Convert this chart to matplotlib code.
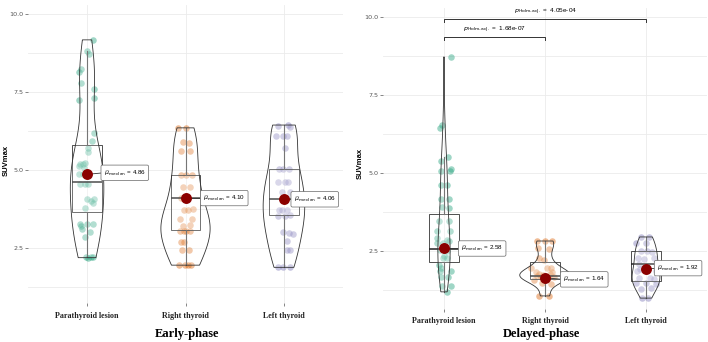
import numpy as np
import matplotlib.pyplot as plt


# -----------------------------
# Data
# -----------------------------

GROUPS = ["Parathyroid lesion", "Right thyroid", "Left thyroid"]
COLORS = ["#1B9E77", "#D95F02", "#7570B3"]

# early phase: SUVmax values and horizontal jitter (px offsets)
early_pl = [9.17, 8.81, 8.72, 8.24, 8.14, 7.79, 7.60, 7.31, 7.24, 6.19, 5.93, 5.70, 5.58,
            5.20, 5.20, 5.22, 5.12, 5.05, 4.86, 4.88, 4.54, 4.54, 4.56, 4.07, 4.07, 4.00,
            3.94, 3.78, 3.26, 3.22, 3.26, 3.28, 3.10, 3.02, 2.85, 2.21, 2.19, 2.21, 2.20]
early_pl_jit = [6, 0, 2, -6, -8, -6, 7, 7, -8, 7, 5, 1, 1, -7, -4, -2, -8, -3, -8, -4,
                -7, -2, 1, 0, 7, 4, 6, -2, -7, -6, 0, 6, -5, 3, -2, -1, 1, 6, 4]

early_rt = [6.35, 6.35, 5.90, 5.86, 5.60, 5.60, 4.84, 4.84, 4.84, 4.44, 4.44, 4.10, 3.72,
            3.72, 3.76, 3.43, 3.43, 3.20, 3.24, 3.04, 3.04, 3.04, 3.04, 2.70, 2.70, 2.44,
            2.44, 1.95, 1.95, 1.95, 1.95]
early_rt_jit = [-8, 0, -3, 4, -5, 5, -5, 0, 7, -3, 5, -5, -2, 3, 8, -6, 7, -3, 5, -6, -2,
                1, 5, -5, -2, -4, 4, -7, -1, 3, 6]

early_lt = [6.41, 6.44, 6.38, 6.09, 6.09, 6.09, 5.70, 5.03, 5.03, 5.03, 4.60, 4.60, 4.60,
            4.30, 4.28, 4.10, 3.72, 3.72, 3.72, 3.53, 3.53, 3.55, 3.00, 2.98, 2.95, 2.72,
            2.44, 2.44, 1.90, 1.88, 1.90]
early_lt_jit = [-6, 4, 6, -8, -1, 3, 1, -5, -1, 5, -6, 1, 4, -2, 6, 3, -5, -2, 3, -6, 1,
                6, -1, 5, 9, 3, 3, 6, -6, -1, 6]

# delayed phase
delayed_pl = [8.72, 6.54, 6.44, 5.50, 5.38, 5.13, 5.06, 5.06, 4.62, 4.62, 4.17, 4.17, 3.88,
              3.90, 3.46, 3.46, 3.14, 3.14, 2.92, 2.85, 2.82, 2.76, 2.76, 2.53, 2.50, 2.34,
              2.28, 2.26, 2.05, 1.95, 1.86, 1.86, 1.67, 1.67, 1.38, 1.38, 1.19]
delayed_pl_jit = [7, -2, -4, 4, -3, 7, -3, 6, -3, 3, -3, 5, 5, -2, -5, 5, -7, 6, -7, 3, 5,
                  -7, -1, -4, 3, 0, -1, 3, -5, -3, -4, 7, -3, 4, -2, 7, 3]

delayed_rt = [2.82, 2.82, 2.82, 2.60, 2.56, 2.28, 2.22, 1.96, 1.96, 1.96, 1.83, 1.83, 1.76,
              1.76, 1.67, 1.67, 1.67, 1.57, 1.48, 1.45, 1.06, 1.06, 1.72, 1.62, 1.70]
delayed_rt_jit = [-8, 0, 7, -7, 4, -6, -1, -14, 2, 6, -9, 7, -6, 5, -4, 2, 9, -11, -3, 6,
                  -6, 4, -2, 3, -8]

delayed_lt = [2.95, 2.95, 2.76, 2.76, 2.50, 2.50, 2.48, 2.27, 2.24, 2.27, 2.08, 1.93, 1.86,
              1.86, 1.86, 1.63, 1.63, 1.60, 1.47, 1.47, 1.45, 1.28, 1.30, 0.99, 1.00]
delayed_lt_jit = [-5, 3, -10, 0, -5, 1, 6, -8, -2, 8, -7, -6, -9, 1, 10, -7, 4, 8, -10, 0,
                  10, -5, 5, -4, 2]

# boxplot stats: whisker low, q1, median, q3, whisker high
early_box = [[2.20, 3.65, 4.60, 5.80, 8.81],
             [1.95, 3.07, 4.10, 4.84, 6.35],
             [1.88, 3.56, 4.07, 5.03, 6.44]]
delayed_box = [[1.19, 2.15, 2.56, 3.69, 5.50],
               [1.06, 1.60, 1.70, 2.15, 2.82],
               [0.99, 1.54, 2.08, 2.50, 2.95]]

early_median = [4.86, 4.10, 4.06]
delayed_median = [2.58, 1.64, 1.92]

# pairwise comparisons shown on delayed panel: (group a, group b, p label)
delayed_pairs = [(1, 2, "1.68e-07"), (1, 3, "4.05e-04")]


# -----------------------------
# Helpers
# -----------------------------

SPACING_PX = 100.0


def nrd0(x):
  sd = np.std(x, ddof=1)
  iqr = np.subtract(*np.percentile(x, [75, 25]))
  lo = min(sd, iqr / 1.34) if iqr > 0 else sd
  return 0.9 * lo * len(x) ** -0.2


def density(x):
  x = np.asarray(x)
  bw = nrd0(x)
  grid = np.linspace(x.min(), x.max(), 512)
  d = np.exp(-0.5 * ((grid[:, None] - x[None, :]) / bw) ** 2).sum(axis=1)
  d /= len(x) * bw * np.sqrt(2 * np.pi)
  return grid, d


def draw_panel(ax, values, jitters, box, medians, label_dx, label_dy):
  # points
  for i, (v, j) in enumerate(zip(values, jitters)):
    ax.scatter(i + 1 + np.asarray(j) / SPACING_PX, v, s=22, color=COLORS[i],
               alpha=0.42, linewidths=0, zorder=2)

  # boxes
  stats = [dict(whislo=b[0], q1=b[1], med=b[2], q3=b[3], whishi=b[4]) for b in box]
  ax.bxp(stats, positions=[1, 2, 3], widths=0.3, showfliers=False, showcaps=False,
         patch_artist=True, manage_ticks=False,
         boxprops=dict(facecolor=(1, 1, 1, 0.2), edgecolor="#333333", linewidth=0.6),
         medianprops=dict(color="#222222", linewidth=1.1),
         whiskerprops=dict(color="#555555", linewidth=0.8), zorder=3)

  # violins (area scaled, width 0.5)
  dens = [density(v) for v in values]
  dmax = max(d.max() for _, d in dens)
  for i, (g, d) in enumerate(dens):
    hw = 0.25 * d / dmax
    xs = np.r_[i + 1 - hw, (i + 1 + hw)[::-1]]
    ys = np.r_[g, g[::-1]]
    ax.fill(xs, ys, facecolor=(1, 1, 1, 0.2), edgecolor="#333333", linewidth=0.6, zorder=4)

  # centrality + label
  for i, m in enumerate(medians):
    x0 = i + 1
    xl = x0 + label_dx[i]
    ax.plot([x0, xl], [m, m + label_dy[i]], color="#333333", lw=0.6, zorder=5)
    ax.scatter(x0, m, s=62, color="#8B0000", zorder=6, linewidths=0)
    ax.text(xl, m + label_dy[i],
            r"$\widehat{\mu}_{\mathrm{median}}\ $" + f"= {m:.2f}",
            fontsize=4.5, family="Liberation Sans", ha="left", va="center", zorder=7,
            bbox=dict(boxstyle="round,pad=0.45,rounding_size=0.25", fc="white",
                      ec="#666666", lw=0.5))


def style_axes(ax, ylim, xpad):
  ax.set_xlim(0.4, 3.6)
  ax.set_ylim(*ylim)
  ax.set_yticks([2.5, 5.0, 7.5, 10.0])
  ax.set_yticklabels(["2.5", "5.0", "7.5", "10.0"])
  ax.set_yticks([1.25, 3.75, 6.25, 8.75], minor=True)
  ax.set_xticks([1, 2, 3])
  ax.set_xticklabels(GROUPS, family="Liberation Serif", fontweight="bold",
                     fontsize=5.8, color="#222222")
  ax.tick_params(axis="y", which="major", labelsize=4.6, length=2, width=0.5,
                 colors="#555555", pad=1.5)
  ax.tick_params(axis="y", which="minor", length=0)
  ax.tick_params(axis="x", length=2, width=0.5, colors="#555555", pad=xpad)
  for lab in ax.get_xticklabels():
    lab.set_color("#222222")
  ax.grid(True, which="both", axis="y", color="#EBEBEB", lw=0.6)
  ax.grid(True, which="major", axis="x", color="#EBEBEB", lw=0.6)
  ax.set_axisbelow(True)
  for s in ax.spines.values():
    s.set_visible(False)


# -----------------------------
# Plot
# -----------------------------

W, H = 708, 342
fig = plt.figure(figsize=(W / 100, H / 100), dpi=100)

ax1 = fig.add_axes([28 / W, 1 - 302.6 / H, 315 / W, 298 / H])
ax2 = fig.add_axes([383.4 / W, 1 - 308.7 / H, 323.2 / W, 301 / H])

draw_panel(ax1, [early_pl, early_rt, early_lt],
           [early_pl_jit, early_rt_jit, early_lt_jit],
           early_box, early_median,
           label_dx=[0.17, 0.18, 0.10], label_dy=[0.05, 0.0, 0.0])
style_axes(ax1, (0.75, 10.3), 4.5)

draw_panel(ax2, [delayed_pl, delayed_rt, delayed_lt],
           [delayed_pl_jit, delayed_rt_jit, delayed_lt_jit],
           delayed_box, delayed_median,
           label_dx=[0.17, 0.18, 0.11], label_dy=[0.0, -0.05, 0.03])
style_axes(ax2, (0.65, 10.3), 4.0)

# significance brackets
bracket_y = [9.36, 9.94]
for (a, b, p), y in zip(delayed_pairs, bracket_y):
  ax2.plot([a, a, b, b], [y - 0.09, y, y, y - 0.09], color="#333333", lw=0.7)
  ax2.text((a + b) / 2, y + 0.24, r"$p_{\mathrm{Holm\text{-}adj.}}\ $" + f"=  {p}",
           fontsize=4.6, family="Liberation Sans", ha="center", va="center")

# axis labels and panel titles
fig.text(6 / W, 1 - 160 / H, "SUVmax", rotation=90, fontsize=5.5, fontweight="bold",
         family="Liberation Sans", ha="center", va="center")
fig.text(360 / W, 1 - 163 / H, "SUVmax", rotation=90, fontsize=5.5, fontweight="bold",
         family="Liberation Sans", ha="center", va="center")
fig.text(187 / W, 1 - 334 / H, "Early-phase", fontsize=9, fontweight="bold",
         family="Liberation Serif", ha="center", va="center")
fig.text(541 / W, 1 - 334 / H, "Delayed-phase", fontsize=9, fontweight="bold",
         family="Liberation Serif", ha="center", va="center")


# -----------------------------
# Save
# -----------------------------

fig.savefig("out.png", dpi=100)
plt.close(fig)

print("Saved: out.png")
